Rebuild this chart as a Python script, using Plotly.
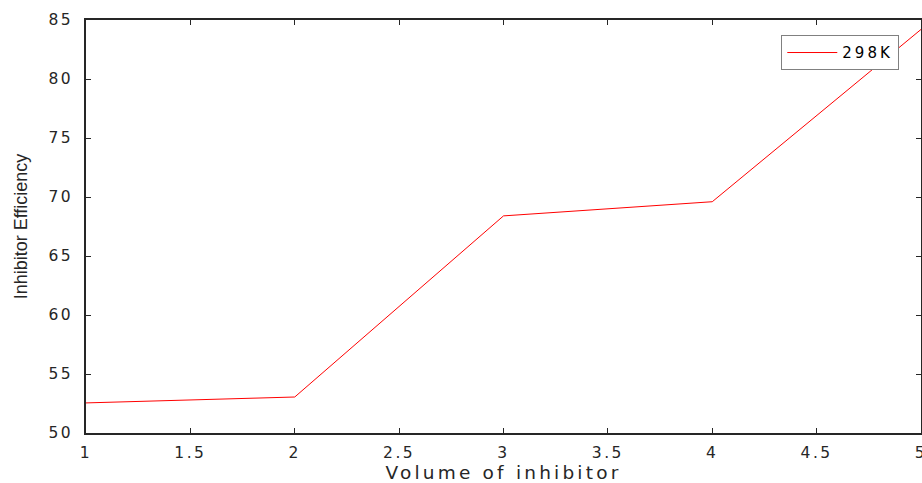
import plotly.graph_objects as go

volume = [1, 2, 3, 4, 5]
efficiency_298K = [52.55, 53.05, 68.4, 69.6, 84.2]
series_name = "298K"
x_ticks = [1, 1.5, 2, 2.5, 3, 3.5, 4, 4.5, 5]
x_tick_labels = ["1", "1.5", "2", "2.5", "3", "3.5", "4", "4.5", "5"]
y_ticks = [50, 55, 60, 65, 70, 75, 80, 85]
y_tick_labels = ["50", "55", "60", "65", "70", "75", "80", "85"]

SP = '<span style="letter-spacing:2.5px">{}</span>'

fig = go.Figure()
fig.add_trace(go.Scatter(x=volume, y=efficiency_298K, mode="lines",
                         name='<span style="letter-spacing:3px">{}</span>'.format(series_name),
                         line=dict(color="#ff0000", width=1)))

axis_common = dict(showline=True, linecolor="#262626", linewidth=1.5, mirror="ticks",
                   ticks="inside", ticklen=5, tickcolor="#262626", showgrid=False,
                   zeroline=False, automargin=False,
                   tickfont=dict(family="DejaVu Sans", size=15.5, color="#262626"))

fig.update_layout(
    width=922, height=483,
    margin=dict(l=86, r=1, t=20, b=50),
    plot_bgcolor="white", paper_bgcolor="white",
    xaxis=dict(range=[1, 5], tickvals=x_ticks, ticktext=[SP.format(t) for t in x_tick_labels],
               ticklabelstandoff=5, ticklabeloverflow="allow", **axis_common,
               title=dict(text='<span style="letter-spacing:3.2px">Volume of inhibitor</span>', standoff=5,
                          font=dict(family="DejaVu Sans", size=18.5, color="#262626"))),
    yaxis=dict(range=[50, 85], tickvals=y_ticks, ticktext=[SP.format(t) for t in y_tick_labels],
               ticklabelstandoff=8, **axis_common,
               title=dict(text="Inhibitor Efficiency", standoff=16,
                          font=dict(family="Liberation Sans", size=18, color="#262626"))),
    showlegend=True,
    legend=dict(x=0.974, y=0.963, xanchor="right", yanchor="top",
                bordercolor="#808080", borderwidth=1, bgcolor="white", itemwidth=50,
                font=dict(family="DejaVu Sans", size=15, color="#000000")),
)
fig.write_html("out.html", post_script="document.body.style.margin='0';",
               config={"displayModeBar": False})
